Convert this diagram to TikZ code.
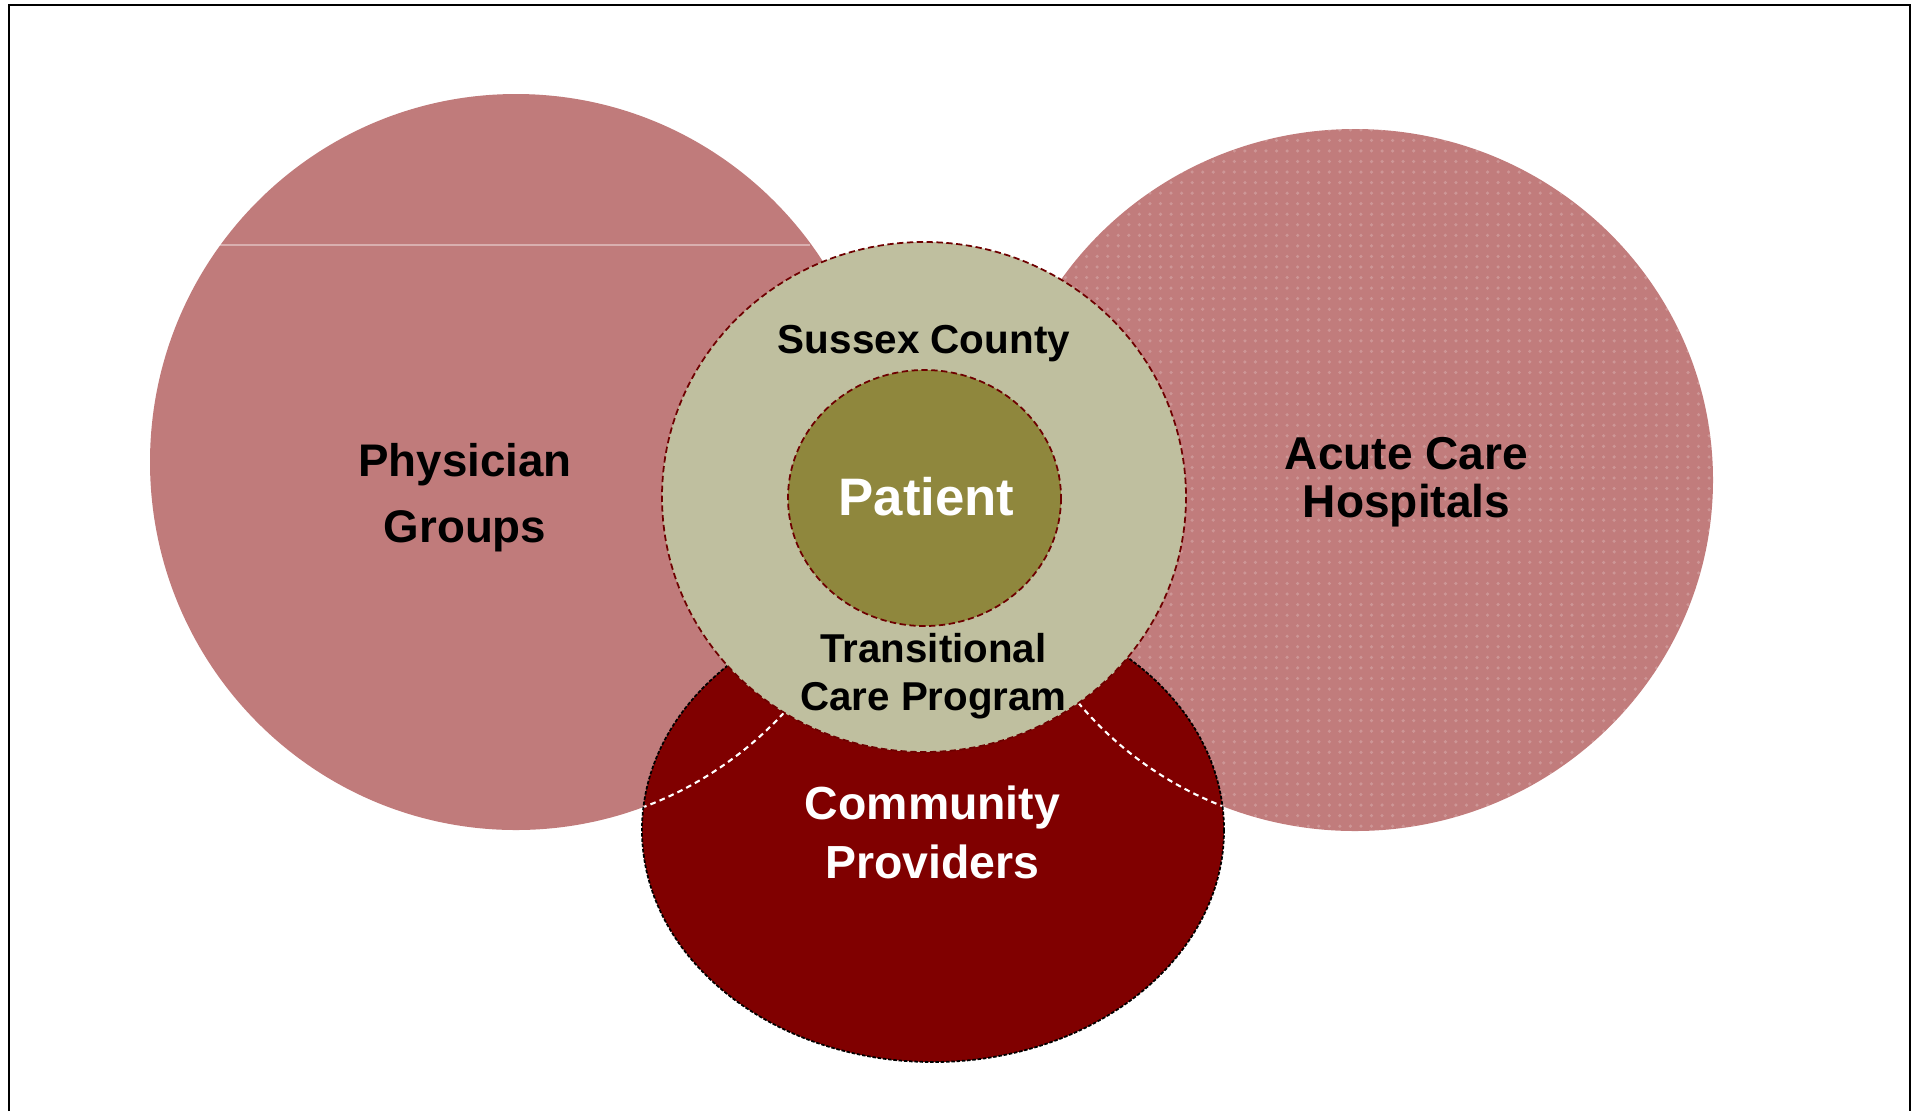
\documentclass[tikz,border=0pt]{standalone}
\usepackage{fontspec}
\setmainfont{Liberation Sans}
\usetikzlibrary{patterns}

\definecolor{physfill}{RGB}{192,123,123}
\definecolor{acutefill}{RGB}{193,124,124}
\definecolor{countyfill}{RGB}{191,191,159}
\definecolor{patientfill}{RGB}{143,135,61}
\definecolor{commfill}{RGB}{128,0,0}
\definecolor{rimred}{RGB}{110,0,0}

\begin{document}
\begin{tikzpicture}[x=0.01cm,y=-0.01cm,
	rim/.style={draw=rimred,line width=0.5pt,dash pattern=on 1.8pt off 1pt},
	commrim/.style={draw=black,line width=0.5pt,dash pattern=on 1pt off 0.5pt},
	seam/.style={draw=white,line width=0.6pt,dash pattern=on 1.6pt off 1.2pt},
	lbl/.style={align=center,anchor=base,inner sep=0pt}]

	\useasboundingbox (0,0) rectangle (1921,1111);
	% frame
	\draw[line width=0.6pt] (9,1111) -- (9,5) -- (1910,5) -- (1910,1111);

	% partners
	\fill[physfill] (516,462) ellipse [x radius=366, y radius=368];
	\draw[white,opacity=0.4,line width=0.3pt] (220,245) -- (810,245);
	\fill[acutefill] (1355,480) ellipse [x radius=358, y radius=351];
	\fill[pattern=dots,pattern color=white,opacity=0.2] (1355,480) ellipse [x radius=358, y radius=351];
	\fill[commfill] (933,830) ellipse [x radius=291, y radius=232];
	\begin{scope}
		\clip (933,830) ellipse [x radius=291, y radius=232];
		\draw[seam] (516,462) ellipse [x radius=366, y radius=368];
		\draw[seam] (1355,480) ellipse [x radius=358, y radius=351];
	\end{scope}
	\draw[commrim] (933,830) ellipse [x radius=291, y radius=232];

	% program and patient
	\filldraw[fill=countyfill,rim] (924,497) ellipse [x radius=262, y radius=255];
	\filldraw[fill=patientfill,rim] (924.5,498) ellipse [x radius=136.5, y radius=128];

	\node[lbl,font=\bfseries\fontsize{13}{18.5}\selectfont] (phys) at (465,542) {Physician\\Groups};
	\node[lbl,font=\bfseries\fontsize{13.1}{13.4}\selectfont] (acute) at (1406.5,517) {Acute Care\\Hospitals};
	\node[lbl,font=\bfseries\fontsize{11.5}{13.8}\selectfont] (county) at (924,353) {Sussex County};
	\node[lbl,text=white,font=\bfseries\fontsize{15}{17}\selectfont] (patient) at (926.5,515) {Patient};
	\node[lbl,font=\bfseries\fontsize{11.45}{13.4}\selectfont] (tcp) at (933.5,710) {Transitional\\Care Program};
	\node[lbl,text=white,font=\bfseries\fontsize{13.2}{16.5}\selectfont] (comm) at (932.5,878) {Community\\Providers};

\end{tikzpicture}
\end{document}
